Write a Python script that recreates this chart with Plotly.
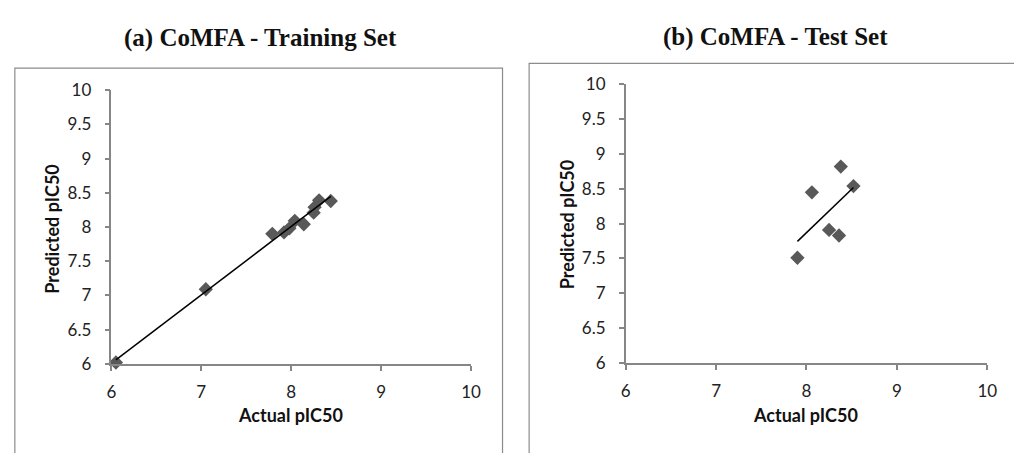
import numpy as np
import plotly.graph_objects as go

# Training set
train_actual = [6.05, 7.05, 7.79, 7.92, 7.98, 8.04, 8.14, 8.25, 8.26, 8.31, 8.44]
train_pred = [6.02, 7.09, 7.90, 7.92, 7.98, 8.09, 8.04, 8.21, 8.29, 8.39, 8.38]

# Test set
test_actual = [7.90, 8.06, 8.25, 8.36, 8.38, 8.52]
test_pred = [7.51, 8.45, 7.91, 7.83, 8.82, 8.54]

tick_vals_x = [6, 7, 8, 9, 10]
tick_vals_y = [6, 6.5, 7, 7.5, 8, 8.5, 9, 9.5, 10]
tick_text_y = ["6", "6.5", "7", "7.5", "8", "8.5", "9", "9.5", "10"]

titles = ["(a) CoMFA - Training Set", "(b) CoMFA - Test Set"]
x_title = "Actual pIC50"
y_title = "Predicted pIC50"

W, H = 1014, 453
marker_color = "#595959"
axis_color = "#868686"
tick_font = dict(family="Lato, Open Sans, sans-serif", size=17, color="#222222")


def trend(xs, ys):
    m, b = np.polyfit(xs, ys, 1)
    xr = np.array([min(xs), max(xs)])
    return xr, m * xr + b


fig = go.Figure()

for i, (xs, ys) in enumerate([(train_actual, train_pred), (test_actual, test_pred)]):
    xa = "x" if i == 0 else "x2"
    ya = "y" if i == 0 else "y2"
    fig.add_trace(go.Scatter(x=xs, y=ys, mode="markers", xaxis=xa, yaxis=ya,
                             marker=dict(symbol="diamond", size=11, color=marker_color,
                                         line=dict(width=0)),
                             showlegend=False, cliponaxis=False))
    tx, ty = trend(xs, ys)
    fig.add_trace(go.Scatter(x=tx, y=ty, mode="lines", xaxis=xa, yaxis=ya,
                             line=dict(color="black", width=1.5), showlegend=False))


def px_x(p):
    return p / W


def px_y(p):
    return 1 - p / H


common_x = dict(range=[6, 10], tickvals=tick_vals_x, showgrid=False, zeroline=False,
                showline=True, linecolor=axis_color, linewidth=1.5, ticks="outside",
                ticklen=5, tickcolor=axis_color, tickwidth=1.5, tickfont=tick_font,
                ticklabelstandoff=7)
common_y = dict(range=[6, 10], tickvals=tick_vals_y, ticktext=tick_text_y,
                showgrid=False, zeroline=False,
                showline=True, linecolor=axis_color, linewidth=1.5, ticks="outside",
                ticklen=5, tickcolor=axis_color, tickwidth=1.5, tickfont=tick_font,
                ticklabelstandoff=10)

fig.update_layout(
    width=W, height=H, margin=dict(l=0, r=0, t=0, b=0),
    paper_bgcolor="white", plot_bgcolor="white",
    xaxis=dict(domain=[px_x(108), px_x(473)], anchor="y", **common_x),
    yaxis=dict(domain=[px_y(370), px_y(83)], anchor="x", **common_y),
    xaxis2=dict(domain=[px_x(630), px_x(997)], anchor="y2", **common_x),
    yaxis2=dict(domain=[px_y(369), px_y(77)], anchor="x2", **common_y),
)

frame_color = "#8c8c8c"
fig.add_shape(type="rect", xref="paper", yref="paper",
              x0=px_x(10), x1=px_x(505), y0=px_y(480), y1=px_y(60),
              line=dict(color=frame_color, width=1.2), fillcolor="rgba(0,0,0,0)", layer="below")
fig.add_shape(type="rect", xref="paper", yref="paper",
              x0=px_x(532), x1=px_x(1040), y0=px_y(480), y1=px_y(55),
              line=dict(color=frame_color, width=1.2), fillcolor="rgba(0,0,0,0)", layer="below")

title_font = dict(family="Liberation Serif, Times New Roman, serif", size=25, color="#111111")
lab_font = dict(family="Lato, Open Sans, sans-serif", size=18, color="#111111")

ann = [
    (259, 28, "<b>" + titles[0] + "</b>", title_font, 0),
    (782, 27, "<b>" + titles[1] + "</b>", title_font, 0),
    (290, 424, "<b>" + x_title + "</b>", lab_font, 0),
    (813, 424, "<b>" + x_title + "</b>", lab_font, 0),
    (48, 229, "<b>" + y_title + "</b>", lab_font, -90),
    (570, 224, "<b>" + y_title + "</b>", lab_font, -90),
]
for x, y, t, f, rot in ann:
    fig.add_annotation(x=px_x(x), y=px_y(y), xref="paper", yref="paper", text=t,
                       showarrow=False, font=f, textangle=rot, xanchor="center", yanchor="middle")

fig.write_html("out.html", config={"displayModeBar": False},
               post_script="document.body.style.margin='0';document.body.style.overflow='hidden';")
